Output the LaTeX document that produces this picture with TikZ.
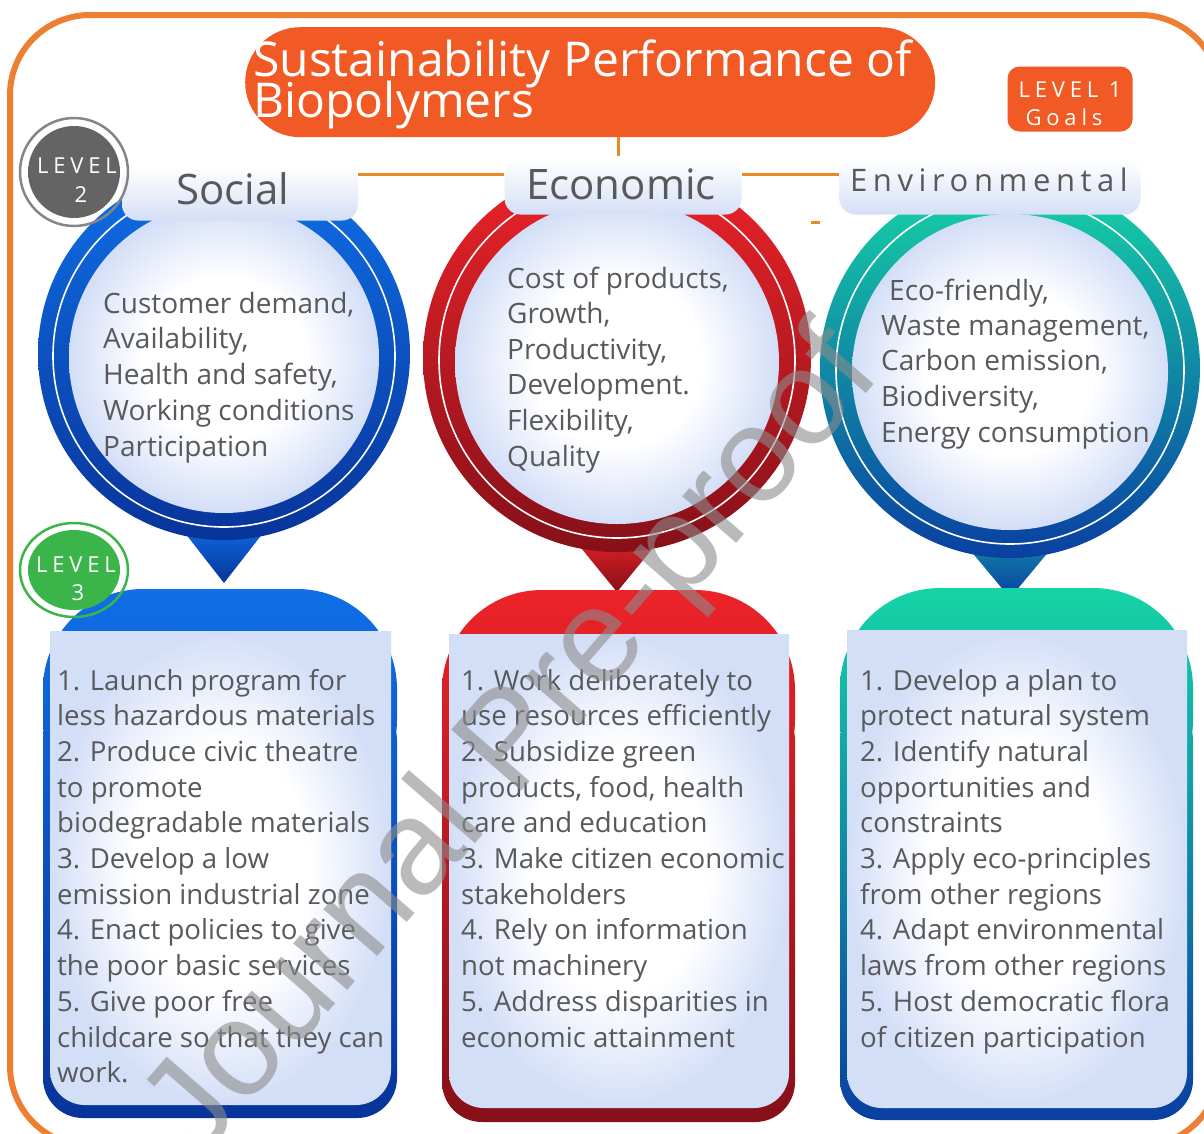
\documentclass[tikz,border=0pt]{standalone}
\usepackage{fontspec}
\setmainfont{Open Sans}
\newfontfamily\wmfont{Liberation Sans}
\usetikzlibrary{shapes.geometric}

\definecolor{frameor}{HTML}{EE7E31}
\definecolor{titleor}{HTML}{F15A24}
\definecolor{linkor}{HTML}{E98A24}
\definecolor{txtgray}{HTML}{58595B}
\definecolor{discblue}{HTML}{D3DEF7}
\definecolor{tabblue}{HTML}{D5DFF6}
\definecolor{socL}{HTML}{0F6FE6}
\definecolor{socD}{HTML}{08349A}
\definecolor{ecoL}{HTML}{EC2329}
\definecolor{ecoD}{HTML}{861019}
\definecolor{envL}{HTML}{16D4A6}
\definecolor{envD}{HTML}{0A3FA2}
\definecolor{lvtwo}{HTML}{646464}
\definecolor{lvtwoRing}{HTML}{858585}
\definecolor{lvthree}{HTML}{3BB54A}
\definecolor{wmgray}{HTML}{8C8C8C}

% white centre fading to pale blue at the rim
\pgfdeclareradialshading{discshade}{\pgfpoint{0bp}{0bp}}{color(0bp)=(white); color(13bp)=(white); color(25bp)=(discblue); color(50bp)=(discblue)}

\begin{document}
\begin{tikzpicture}[x=1pt,y=-1pt,
  txt/.style={text=txtgray, inner sep=0pt, anchor=base west, font=\fontsize{27.6}{32}\selectfont},
  ctxt/.style={txt, font=\fontsize{28}{32}\selectfont},
  tabtxt/.style={text=txtgray, inner sep=0pt, anchor=base, font=\fontsize{42}{42}\selectfont},
  tabbox/.style={rounded corners=16, top color=white, bottom color=tabblue, inner sep=0pt, minimum height=55},
  link/.style={linkor, line width=3},
  badgetxt/.style={text=white, inner sep=0pt, anchor=base, font=\fontsize{22}{22}\selectfont\addfontfeature{LetterSpace=22}},
  disc/.style={shading=discshade},
  ringline/.style={white, line width=1.6},
]
\useasboundingbox (0,0) rectangle (1204,1133);
\clip (0,0) rectangle (1204,1133);
\fill[white] (0,0) rectangle (1204,1133);

% outer frame
\draw[frameor, line width=6, rounded corners=80] (10,15) rectangle (1220,1146);

% ---------- title ----------
\node[fill=titleor, rounded corners=55, minimum width=690, minimum height=110, anchor=north west, inner sep=0pt] (title) at (245,27) {};
\node[anchor=base west, text=white, inner sep=0pt, font=\fontsize{48}{48}\selectfont] (t1) at (253,76) {Sustainability Performance of};
\node[anchor=base west, text=white, inner sep=0pt, font=\fontsize{48}{48}\selectfont] (t2) at (253,117) {Biopolymers};

% level 1 badge
\node[fill=titleor, rounded corners=12, minimum width=125, minimum height=65, inner sep=0pt] (lv1) at (1070,99) {};
\node[badgetxt] (lv1a) at (1070,97) {LEVEL 1};
\node[badgetxt] (lv1b) at (1064,125) {Goals};

% ---------- social column ----------
\shade[top color=socL!80!socD, bottom color=socD] (185,533) -- (263,533) -- (224,583) -- cycle;
\shade[top color=socL, bottom color=socD] (224,354) circle[radius=186];
\draw[ringline] (224,356) circle[radius=171];
\shade[disc] (224,358) circle[radius=155];
\shade[top color=socL, bottom color=socD] [rounded corners=100] (43,589) rectangle (397,820) [rounded corners=40] (43,700) rectangle (397,1118);
\shade[disc] (50,631) rectangle (391,900) [rounded corners=35] (50,800) rectangle (391,1105);

% ---------- economic column ----------
\shade[top color=ecoL!80!ecoD, bottom color=ecoD] (577,543) -- (657,543) -- (617,592) -- cycle;
\shade[top color=ecoL, bottom color=ecoD] (617,358) circle[radius=194];
\draw[ringline] (617,360) circle[radius=178];
\shade[disc] (617,362) circle[radius=162];
\shade[top color=ecoL, bottom color=ecoD] [rounded corners=100] (442,590) rectangle (795,820) [rounded corners=40] (442,700) rectangle (795,1122);
\shade[disc] (449,634) rectangle (789,900) [rounded corners=35] (449,800) rectangle (789,1108);

% ---------- environmental column ----------
\shade[top color=envL!40!envD, bottom color=envD] (970,550) -- (1050,550) -- (1010,598) -- cycle;
\shade[top color=envL, bottom color=envD] (1010,368) circle[radius=190];
\draw[ringline] (1010,370) circle[radius=174];
\shade[disc] (1010,372) circle[radius=158];
\shade[top color=envL, bottom color=envD] [rounded corners=100] (840,588) rectangle (1193,820) [rounded corners=40] (840,700) rectangle (1193,1120);
\shade[disc] (847,630) rectangle (1187,900) [rounded corners=35] (847,800) rectangle (1187,1108);

% ---------- level 2 tabs ----------
\node[tabbox, minimum width=236] (socTab) at (240,193) {};
\node[tabbox, minimum width=237] (ecoTab) at (623,187) {};
\node[tabbox, minimum width=301] (envTab) at (990,187) {};
\node[tabtxt] (socT) at (233,204) {Social};
\node[tabtxt] (ecoT) at (621,199) {Economic};
\node[tabtxt, font=\fontsize{31}{31}\selectfont\addfontfeature{LetterSpace=18}] (envT) at (989,191) {Environmental};

% connectors between goal and dimensions
\coordinate (tdrop) at (618,156);
\coordinate (linkY) at (0,174);
\coordinate (dashA) at (811,222);
\coordinate (dashB) at (820,222);
\draw[link] (title.south -| tdrop) -- (tdrop);
\draw[link] (socTab.east |- linkY) -- (ecoTab.west |- linkY);
\draw[link] (ecoTab.east |- linkY) -- (envTab.west |- linkY);
\draw[link] (dashA) -- (dashB);

% ---------- level badges ----------
\node[circle, draw=lvtwoRing, line width=2.5, minimum size=108, inner sep=0pt] (lv2ring) at (74,172) {};
\node[circle, fill=lvtwo, minimum size=92, inner sep=0pt] (lv2) at (74,172) {};
\node[badgetxt] (lv2a) at (77,173) {LEVEL};
\node[badgetxt] (lv2b) at (81,202) {2};

\node[ellipse, draw=lvthree, line width=2.5, minimum width=108, minimum height=94, inner sep=0pt] (lv3ring) at (74,570) {};
\node[ellipse, fill=lvthree, minimum width=92, minimum height=80, inner sep=0pt] (lv3) at (74,570) {};
\node[badgetxt] (lv3a) at (76,572) {LEVEL};
\node[badgetxt] (lv3b) at (78,600) {3};

% ---------- criteria inside the rings ----------
\foreach \t [count=\i] in {{Customer demand,},{Availability,},{Health and safety,},{Working conditions},{Participation}}
  \node[ctxt] (sc\i) at (103,{313+35.8*(\i-1)}) {\t};
\foreach \t [count=\i] in {{Cost of products,},{Growth,},{Productivity,},{Development.},{Flexibility,},{Quality}}
  \node[ctxt] (ec\i) at (507,{288+35.6*(\i-1)}) {\t};
\node[ctxt] (en1) at (889,300) {Eco-friendly,};
\foreach \t [count=\i] in {{Waste management,},{Carbon emission,},{Biodiversity,},{Energy consumption}}
  \node[ctxt] (en\i) at (881,{335+35.7*(\i-1)}) {\t};

% ---------- level 3 actions ----------
\foreach \t [count=\i] in {{1. Launch program for},{less hazardous materials},{2. Produce civic theatre},{to promote},{biodegradable materials},{3. Develop a low},{emission industrial zone},{4. Enact policies to give},{the poor basic services},{5. Give poor free},{childcare so that they can},{work.}}
  \node[txt] (sa\i) at (57,{690+35.7*(\i-1)}) {\t};
\foreach \t [count=\i] in {{1. Work deliberately to},{use resources efficiently},{2. Subsidize green},{products, food, health},{care and education},{3. Make citizen economic},{stakeholders},{4. Rely on information},{not machinery},{5. Address disparities in},{economic attainment}}
  \node[txt] (ea\i) at (461,{690+35.7*(\i-1)}) {\t};
\foreach \t [count=\i] in {{1. Develop a plan to},{protect natural system},{2. Identify natural},{opportunities and},{constraints},{3. Apply eco-principles},{from other regions},{4. Adapt environmental},{laws from other regions},{5. Host democratic flora},{of citizen participation}}
  \node[txt] (na\i) at (860,{690+35.7*(\i-1)}) {\t};

% watermark
\node[rotate=49, text=wmgray, text opacity=0.6, inner sep=0pt, font=\wmfont\fontsize{135}{135}\selectfont] (wm) at (515,745) {Journal Pre-proof};
\end{tikzpicture}
\end{document}
